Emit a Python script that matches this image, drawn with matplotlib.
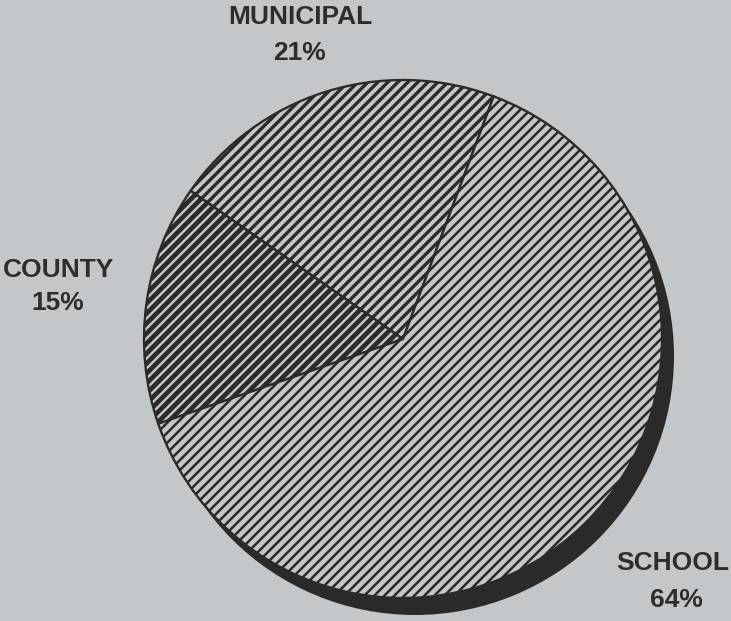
import matplotlib
matplotlib.use("Agg")
import matplotlib.pyplot as plt
from matplotlib.patches import Circle

# data
labels = ["MUNICIPAL", "COUNTY", "SCHOOL"]
shares = [21, 15, 64]
hatch_widths = [2.0, 2.8, 1.5]   # county darkest, school lightest

bg = "#c4c7c9"
ink = "#2b2a2b"

dpi = 120
fig = plt.figure(figsize=(731 / dpi, 621 / dpi), dpi=dpi, facecolor=bg)
ax = fig.add_axes([0, 0, 1, 1])
ax.set_facecolor(bg)

# pie centre and radius in pixels
cx, cy, r = 403, 339, 259

# drop shadow behind the pie
shadow = Circle((12 / r, -17 / r), 1.0, facecolor=ink, edgecolor="none", zorder=0)
ax.add_patch(shadow)

wedges, _ = ax.pie(shares, startangle=69.5, counterclock=True,
                   radius=1.0, colors=[bg] * 3,
                   wedgeprops=dict(edgecolor=ink, linewidth=1.4))
for w, hw in zip(wedges, hatch_widths):
    w.set_hatch("////")
    if hasattr(w, "set_hatch_linewidth"):
        w.set_hatch_linewidth(hw)
    w.set_zorder(2)

ax.set_xlim(-cx / r, (731 - cx) / r)
ax.set_ylim(-(621 - cy) / r, cy / r)
ax.set_axis_off()

# labels (pixel positions from the reference)
font = dict(family="Liberation Sans", weight="bold", size=15.8, color="#2e2d2e",
            ha="center", va="center")
label_pos = [(300, 17, 300, 53), (58, 270, 58, 303), (673, 563, 676, 600)]
for lab, val, (x1, y1, x2, y2) in zip(labels, shares, label_pos):
    fig.text(x1 / 731, 1 - y1 / 621, lab, **font)
    fig.text(x2 / 731, 1 - y2 / 621, f"{val}%", **font)

fig.savefig("out.png", dpi=dpi, facecolor=bg)
